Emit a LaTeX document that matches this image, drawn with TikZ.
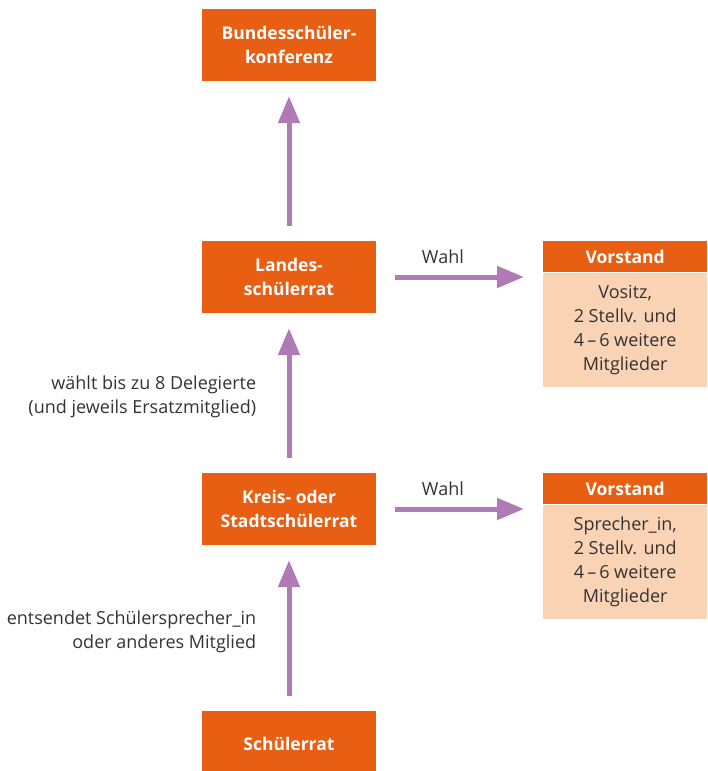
\documentclass[tikz,border=0pt]{standalone}
\usepackage{fontspec}
\setmainfont{Open Sans}
\usepackage{xcolor}
\usetikzlibrary{positioning}
\usetikzlibrary{arrows.meta}

\definecolor{orange}{HTML}{E85E12}
\definecolor{pfirsich}{HTML}{FAD3B5}
\definecolor{lila}{HTML}{B07AB4}
\definecolor{grau}{HTML}{333333}

\begin{document}
\begin{tikzpicture}[x=1pt,y=1pt,node distance=232pt,on grid,
    font=\fontsize{18}{24}\selectfont,
    rat/.style={fill=orange,text=white,font=\fontsize{17.5}{24}\selectfont\bfseries,
      minimum width=174pt,minimum height=72pt,align=center,inner sep=0pt},
    kopf/.style={fill=orange,text=white,font=\fontsize{17.5}{24}\selectfont\bfseries,
      minimum width=164pt,minimum height=31pt,inner sep=0pt,anchor=north west},
    inhalt/.style={fill=pfirsich,text=grau,minimum width=164pt,minimum height=114pt,
      align=center,inner sep=0pt,anchor=north},
    pfeil/.style={lila,line width=5pt,-{Triangle[length=27pt,width=21pt]},
      shorten <=15pt,shorten >=15pt},
    notiz/.style={text=grau,align=right}]
  \useasboundingbox (0,0) rectangle (707,-771);

  \node[rat] (bsk) at (289,-45) {Bundesschüler-\\konferenz};
  \node[rat] (lsr) [below=of bsk] {Landes-\\schülerrat};
  \node[rat] (ksr) [below=of lsr] {Kreis- oder\\Stadtschülerrat};
  \node[rat] (sr) [below=of ksr,minimum height=66pt,yshift=-3pt] {Schülerrat};

  % Vorstaende
  \node[kopf] (vk1) at (543,-241) {Vorstand};
  \node[inhalt] (vi1) at (vk1.south) {Vositz,\\2 Stellv. und\\4\,–\,6 weitere\\Mitglieder};
  \node[kopf] (vk2) at (543,-473) {Vorstand};
  \node[inhalt] (vi2) at (vk2.south) {Sprecher\_in,\\2 Stellv. und\\4\,–\,6 weitere\\Mitglieder};

  \draw[pfeil] (lsr) -- (bsk);
  \draw[pfeil] (ksr) -- node[notiz,left=27pt,yshift=-4pt] (n1)
    {wählt bis zu 8 Delegierte\\(und jeweils Ersatzmitglied)} (lsr);
  \draw[pfeil] (sr) -- node[notiz,left=27pt,yshift=-4pt] (n2)
    {entsendet Schülersprecher\_in\\oder anderes Mitglied} (ksr);
  \draw[pfeil,shorten <=19pt,shorten >=19pt] (lsr.east) -- node[pos=0.4,above=7pt,text=grau] (w1) {Wahl} (vk1.west |- lsr.east);
  \draw[pfeil,shorten <=19pt,shorten >=19pt] (ksr.east) -- node[pos=0.4,above=7pt,text=grau] (w2) {Wahl} (vk2.west |- ksr.east);
\end{tikzpicture}
\end{document}
